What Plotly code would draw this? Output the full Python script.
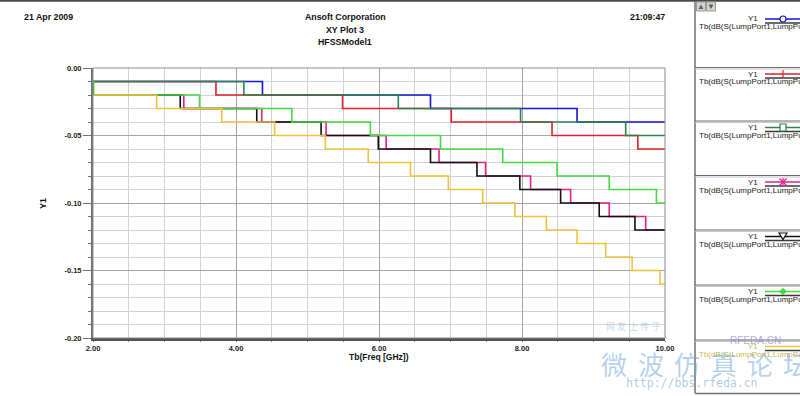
import plotly.graph_objects as go

# ---------------- data ----------------
FREQ_START = 2.0
FREQ_END = 10.0

blue_drops = [4.37, 6.72, 8.77]
blue_levels = [-0.01, -0.02, -0.03, -0.04]

red_drops = [3.72, 5.49, 7.01, 8.42, 9.62]
red_levels = [-0.01, -0.02, -0.03, -0.04, -0.05, -0.06]

dkgreen_drops = [4.11, 6.27, 7.98, 9.45]
dkgreen_levels = [-0.01, -0.02, -0.03, -0.04, -0.05]

magenta_drops = [3.27, 4.36, 5.26, 6.10, 6.84, 7.49, 8.12, 8.68, 9.22, 9.73]
magenta_levels = [-0.02, -0.03, -0.04, -0.05, -0.06, -0.07, -0.08, -0.09, -0.10, -0.11, -0.12]

black_drops = [3.22, 4.29, 5.19, 5.99, 6.72, 7.37, 7.97, 8.54, 9.08, 9.58]
black_levels = [-0.02, -0.03, -0.04, -0.05, -0.06, -0.07, -0.08, -0.09, -0.10, -0.11, -0.12]

ltgreen_drops = [2.01, 3.49, 4.78, 5.88, 6.86, 7.73, 8.49, 9.22, 9.88]
ltgreen_levels = [-0.01, -0.02, -0.03, -0.04, -0.05, -0.06, -0.07, -0.08, -0.09, -0.10]

yellow_drops = [2.89, 3.80, 4.54, 5.25, 5.85, 6.44, 6.97, 7.45, 7.90, 8.34, 8.77, 9.17, 9.54, 9.93]
yellow_levels = [-0.02, -0.03, -0.04, -0.05, -0.06, -0.07, -0.08, -0.09, -0.10, -0.11,
                 -0.12, -0.13, -0.14, -0.15, -0.16]

X_TICKS = [2, 4, 6, 8, 10]
X_LABELS = ["2.00", "4.00", "6.00", "8.00", "10.00"]
Y_TICKS = [0.0, -0.05, -0.10, -0.15, -0.20]
Y_LABELS = ["0.00", "-0.05", "-0.10", "-0.15", "-0.20"]

LEGEND_Y_NAME = "Y1"
LEGEND_EXPR = "Tb(dB(S(LumpPort1,LumpPort1)))"

# ---------------- styling / layout ----------------
SERIES = [
    (blue_drops, blue_levels, "#1414d2", "circle"),
    (red_drops, red_levels, "#e0202c", "plus"),
    (dkgreen_drops, dkgreen_levels, "#2e8050", "square"),
    (magenta_drops, magenta_levels, "#e0208c", "star"),
    (black_drops, black_levels, "#111111", "tri"),
    (ltgreen_drops, ltgreen_levels, "#44d844", "diamond"),
    (yellow_drops, yellow_levels, "#f0c23c", None),
]

W, H = 800, 396
L, R, T, B = 93, 665, 68, 338
FONT = "Liberation Sans"


def px(x):
    return (x - L) / (R - L)


def py(y):
    return (B - y) / (B - T)


fig = go.Figure()
for drops, levels, color, _ in SERIES:
    fig.add_trace(go.Scatter(
        x=[FREQ_START] + drops + [FREQ_END],
        y=levels + [levels[-1]],
        mode="lines", line=dict(color=color, width=1.6, shape="hv"),
        showlegend=False, hoverinfo="skip"))

tickfont = dict(family=FONT, size=7.5, color="#222222", weight="bold")

fig.update_layout(
    width=W, height=H, autosize=False,
    margin=dict(l=L, r=W - R, t=T, b=H - B, pad=0),
    paper_bgcolor="white", plot_bgcolor="white",
    showlegend=False,
    xaxis=dict(range=[2, 10], tickvals=X_TICKS, ticktext=X_LABELS,
               showgrid=True, gridcolor="#a4a4a4", gridwidth=1,
               ticks="outside", ticklen=1, tickcolor="#707070",
               minor=dict(dtick=0.5, tick0=2, showgrid=True, gridcolor="#d2d2d2",
                          ticks="outside", ticklen=1, tickcolor="#909090"),
               showline=True, linecolor="#555555", linewidth=2.5,
               zeroline=False, tickfont=tickfont, fixedrange=True),
    yaxis=dict(range=[-0.2, 0], tickvals=Y_TICKS, ticktext=Y_LABELS,
               showgrid=True, gridcolor="#a4a4a4", gridwidth=1,
               ticks="outside", ticklen=8, tickcolor="#707070",
               minor=dict(dtick=0.01, tick0=0, showgrid=True, gridcolor="#d2d2d2",
                          ticks="outside", ticklen=3, tickcolor="#707070"),
               showline=True, linecolor="#707070", linewidth=2,
               zeroline=False, tickfont=tickfont, fixedrange=True),
)

shapes = []
ann = []

# plot border (top/right thin)
shapes.append(dict(type="rect", xref="paper", yref="paper", x0=0, x1=1, y0=0, y1=1,
                   line=dict(color="#8a8a8a", width=1), layer="above"))
# top frame line of window
shapes.append(dict(type="line", xref="paper", yref="paper", x0=px(0), x1=px(800),
                   y0=py(0.8), y1=py(0.8), line=dict(color="#4a4a4a", width=2)))


def text(x, y, s, size=8.8, color="#111111", xanchor="center", bold=True, angle=0,
         family=FONT, opacity=1.0):
    ann.append(dict(x=px(x), y=py(y), xref="paper", yref="paper",
                    text=("<b>%s</b>" % s) if bold else s, showarrow=False,
                    xanchor=xanchor, yanchor="middle", textangle=angle,
                    font=dict(family=family, size=size, color=color), opacity=opacity))


# header
text(22, 17.5, "21 Apr 2009", xanchor="left")
text(345, 17.5, "Ansoft Corporation")
text(345, 30, "XY Plot 3")
text(345, 42.5, "HFSSModel1")
text(667, 17.5, "21:09:47", xanchor="right")
# axis titles
text(43, 204, "Y1", size=9, angle=-90)
text(379, 357, "Tb(Freq [GHz])", size=8.5)

# ---------------- legend panel ----------------
shapes.append(dict(type="line", xref="paper", yref="paper", x0=px(695), x1=px(695),
                   y0=py(1), y1=py(393), line=dict(color="#707070", width=1.5)))
shapes.append(dict(type="line", xref="paper", yref="paper", x0=px(695), x1=px(802),
                   y0=py(393.5), y1=py(393.5), line=dict(color="#707070", width=1.5)))
# scroll buttons
for bx in (696.5, 706.5):
    shapes.append(dict(type="rect", xref="paper", yref="paper", x0=px(bx), x1=px(bx + 9),
                       y0=py(2), y1=py(11), fillcolor="#d6d2ca",
                       line=dict(color="#9a9a9a", width=1)))
shapes.append(dict(type="path", xref="paper", yref="paper",
                   path="M %f,%f L %f,%f L %f,%f Z" % (px(698.5), py(9), px(703.5), py(9), px(701), py(4.5)),
                   fillcolor="#606060", line=dict(width=0)))
shapes.append(dict(type="path", xref="paper", yref="paper",
                   path="M %f,%f L %f,%f L %f,%f Z" % (px(708.5), py(4.5), px(713.5), py(4.5), px(711), py(9)),
                   fillcolor="#606060", line=dict(width=0)))

SEP_Y = [67.5, 121, 175.5, 230, 285, 340]
for sy in SEP_Y:
    shapes.append(dict(type="line", xref="paper", yref="paper", x0=px(695), x1=px(802),
                       y0=py(sy), y1=py(sy), line=dict(color="#6a6a6a", width=1)))
    shapes.append(dict(type="line", xref="paper", yref="paper", x0=px(695), x1=px(802),
                       y0=py(sy + 1.5), y1=py(sy + 1.5), line=dict(color="#c8c8c8", width=1)))

bases = [12.5] + SEP_Y
MX = 783
for i, (drops, levels, color, mk) in enumerate(SERIES):
    yy = bases[i] + 6.5
    ty = bases[i] + 14.5
    tcol = "#1a1a1a" if i < 6 else "#cdb84a"
    text(760, yy, LEGEND_Y_NAME, size=8, color=tcol, xanchor="right", bold=False)
    text(697, ty, LEGEND_EXPR, size=8, color=tcol, xanchor="left", bold=False)
    shapes.append(dict(type="line", xref="paper", yref="paper", x0=px(765), x1=px(802),
                       y0=py(yy), y1=py(yy), line=dict(color=color, width=1.5)))
    shapes.append(dict(type="line", xref="paper", yref="paper", x0=px(765), x1=px(802),
                       y0=py(yy + 4), y1=py(yy + 4), line=dict(color="#3a3a3a", width=1.5)))
    if mk == "circle":
        shapes.append(dict(type="circle", xref="paper", yref="paper", x0=px(MX - 3), x1=px(MX + 3),
                           y0=py(yy - 3), y1=py(yy + 3), fillcolor="white",
                           line=dict(color=color, width=1.2)))
    elif mk == "plus":
        shapes.append(dict(type="line", xref="paper", yref="paper", x0=px(MX), x1=px(MX),
                           y0=py(yy - 4), y1=py(yy + 4), line=dict(color=color, width=1.2)))
    elif mk == "square":
        shapes.append(dict(type="rect", xref="paper", yref="paper", x0=px(MX - 3), x1=px(MX + 3),
                           y0=py(yy - 3.5), y1=py(yy + 3.5), fillcolor="white",
                           line=dict(color=color, width=1.2)))
    elif mk == "star":
        for dx, dy in ((0, 4), (3.5, 3.5), (-3.5, 3.5)):
            shapes.append(dict(type="line", xref="paper", yref="paper", x0=px(MX - dx), x1=px(MX + dx),
                               y0=py(yy - dy), y1=py(yy + dy), line=dict(color=color, width=1.2)))
    elif mk == "tri":
        shapes.append(dict(type="path", xref="paper", yref="paper",
                           path="M %f,%f L %f,%f L %f,%f Z" % (px(MX - 4), py(yy - 3.5), px(MX + 4), py(yy - 3.5),
                                                              px(MX), py(yy + 3)),
                           fillcolor="white", line=dict(color=color, width=1.2)))
    elif mk == "diamond":
        shapes.append(dict(type="path", xref="paper", yref="paper",
                           path="M %f,%f L %f,%f L %f,%f L %f,%f Z" % (px(MX), py(yy - 3), px(MX + 3.5), py(yy),
                                                                      px(MX), py(yy + 3), px(MX - 3.5), py(yy)),
                           fillcolor=color, line=dict(color=color, width=1)))

# ---------------- watermark ----------------
CJK = "Noto Sans CJK SC"
for k, ch in enumerate("微波仿真论坛"):
    text(614 + 36.5 * k, 363, ch, size=26, color="rgba(110,165,215,0.5)", bold=False, family=CJK)
for k, ch in enumerate("网友上传于"):
    text(610 + 11.5 * k, 326, ch, size=9, color="rgba(120,170,215,0.45)", bold=False, family=CJK)
text(692, 383, "http://bbs.rfeda.cn", size=11.5, color="rgba(120,170,215,0.6)", bold=False,
     family="DejaVu Sans Mono")
text(755, 340, "RFEDA.CN", size=10, color="rgba(150,140,220,0.75)", bold=False)

fig.update_layout(shapes=shapes, annotations=ann)
fig.write_html("out.html", config={"displayModeBar": False},
               post_script="document.body.style.margin='0';document.body.style.overflow='hidden';")
